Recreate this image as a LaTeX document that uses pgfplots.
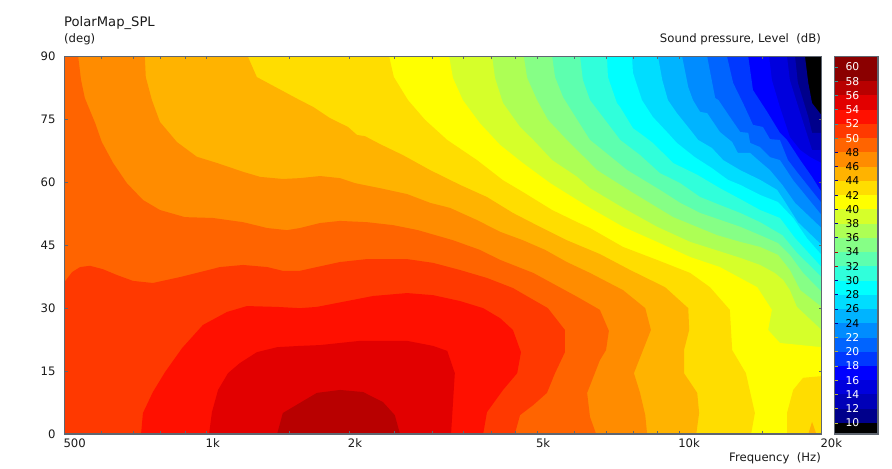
\documentclass[border=0pt]{standalone}
\usepackage{fontspec}
\setmainfont{DejaVu Sans}
\usepackage{pgfplots}
\pgfplotsset{compat=1.18}

\definecolor{axisgrey}{HTML}{5F6670}
\definecolor{c00}{HTML}{000000}
\definecolor{c10}{HTML}{00008B}
\definecolor{c12}{HTML}{0000B8}
\definecolor{c14}{HTML}{0000DD}
\definecolor{c16}{HTML}{0000FF}
\definecolor{c18}{HTML}{0038FF}
\definecolor{c20}{HTML}{0064FF}
\definecolor{c22}{HTML}{008CFF}
\definecolor{c24}{HTML}{00B4FF}
\definecolor{c26}{HTML}{00DDFF}
\definecolor{c28}{HTML}{00FFFF}
\definecolor{c30}{HTML}{30FFDB}
\definecolor{c32}{HTML}{5DFFAF}
\definecolor{c34}{HTML}{86FF86}
\definecolor{c36}{HTML}{ADFF55}
\definecolor{c38}{HTML}{D6FF2A}
\definecolor{c40}{HTML}{FFFF00}
\definecolor{c42}{HTML}{FFDD00}
\definecolor{c44}{HTML}{FFB300}
\definecolor{c46}{HTML}{FF8C00}
\definecolor{c48}{HTML}{FF6400}
\definecolor{c50}{HTML}{FF3900}
\definecolor{c52}{HTML}{FF1000}
\definecolor{c54}{HTML}{E20000}
\definecolor{c56}{HTML}{B80000}
\definecolor{c58}{HTML}{8B0000}

% one filled level region, painted from the lowest level up
\newcommand{\band}[2]{\addplot[fill=#1,draw=none] coordinates {#2} --cycle;}
% one step of the colour bar
\newcommand{\barstep}[2]{\addplot[fill=#1,draw=none] coordinates {(0,#2)(1,#2)(1,61.47)(0,61.47)} --cycle;}
\newcommand{\barlabel}[2]{\node[text=#1,font=\fontsize{10.8}{12}\selectfont] at (axis cs:0.41,#2) {#2};}

\begin{document}
\begin{tikzpicture}[x=1bp,y=1bp]
\useasboundingbox (0,0) rectangle (892,469);

\node[anchor=base west,inner sep=0pt,font=\fontsize{13.2}{15}\selectfont,text=black!90] at (64,442.5) {PolarMap\_SPL};
\node[anchor=base west,inner sep=0pt,font=\fontsize{11.7}{14}\selectfont,text=black!90] at (64,426) {(deg)};
\node[anchor=base east,inner sep=0pt,font=\fontsize{11.7}{14}\selectfont,text=black!90] at (821,426) {Sound pressure, Level\ \ (dB)};
\node[anchor=base east,inner sep=0pt,font=\fontsize{11.7}{14}\selectfont,text=black!90] at (821,7) {Frequency\ \ (Hz)};

\begin{axis}[
    at={(64.5bp,35bp)},
    anchor=south west,
    scale only axis,
    width=757bp,
    height=377.5bp,
    xmin=2.699, xmax=4.301,
    ymin=0, ymax=90,
    axis on top,
    axis line style={axisgrey,line width=1.1bp},
    tick style={axisgrey,line width=0.9bp},
    major tick length=3bp,
    minor tick length=3bp,
    tick align=inside,
    xtick={2.699,3,3.301,3.699,4,4.301},
    xticklabels={500,1k,2k,5k,10k,20k},
    minor xtick={2.778,2.845,2.903,2.954,3.176,3.398,3.477,3.544,3.602,3.653,3.778,3.845,3.903,3.954,4.176},
    ytick={0,15,30,45,60,75,90},
    xticklabel style={anchor=north west,xshift=-1bp,inner sep=0pt,outer sep=0pt,yshift=-4.5bp},
    yticklabel style={xshift=-5.5bp},
    ticklabel style={font=\fontsize{11.7}{14}\selectfont,text=black!90},
    /pgf/number format/assume math mode=true,
]
\band{c00}{(2.699,0)(4.301,0)(4.301,90)(2.699,90)}
\band{c10}{(4.266,90)(4.273,83.7)(4.281,78.9)(4.301,76.0)(4.301,0)(2.699,0)(2.699,90)}
\band{c12}{(4.245,90)(4.251,83.7)(4.273,75.6)(4.281,71.8)(4.301,71.8)(4.301,0)(2.699,0)(2.699,90)}
\band{c14}{(4.228,90)(4.234,84.4)(4.256,76.5)(4.281,67.7)(4.301,67.7)(4.301,0)(2.699,0)(2.699,90)}
\band{c16}{(4.190,90)(4.196,84.4)(4.213,77.9)(4.234,70.8)(4.256,67.7)(4.277,66.0)(4.301,64.6)(4.301,0)(2.699,0)(2.699,90)}
\band{c18}{(4.146,90)(4.156,82.0)(4.186,76.8)(4.213,71.8)(4.228,70.1)(4.256,65.3)(4.281,61.3)(4.301,57.7)(4.301,0)(2.699,0)(2.699,90)}
\band{c20}{(4.101,90)(4.114,83.7)(4.139,77.9)(4.156,73.7)(4.177,73.2)(4.192,70.3)(4.213,70.1)(4.230,65.3)(4.251,62.2)(4.301,55.1)(4.301,0)(2.699,0)(2.699,90)}
\band{c22}{(4.059,90)(4.076,80.1)(4.083,79.6)(4.107,75.6)(4.129,72.0)(4.146,71.8)(4.150,69.4)(4.171,68.4)(4.192,66.0)(4.213,65.3)(4.241,60.5)(4.270,56.5)(4.301,52.2)(4.301,0)(2.699,0)(2.699,90)}
\band{c24}{(4.006,90)(4.019,82.7)(4.029,79.6)(4.044,76.8)(4.059,76.5)(4.086,72.0)(4.112,69.6)(4.124,67.0)(4.150,67.0)(4.167,65.3)(4.192,62.9)(4.218,59.4)(4.245,55.1)(4.301,49.1)(4.301,0)(2.699,0)(2.699,90)}
\band{c26}{(3.955,90)(3.964,84.4)(3.976,79.6)(3.995,76.5)(4.027,72.0)(4.040,70.1)(4.069,68.2)(4.093,65.3)(4.129,62.9)(4.171,60.6)(4.207,58.2)(4.224,55.3)(4.251,50.5)(4.301,45.1)(4.301,0)(2.699,0)(2.699,90)}
\band{c28}{(3.900,90)(3.902,86.1)(3.921,79.6)(3.944,75.6)(3.974,72.0)(3.995,69.4)(4.033,66.0)(4.069,63.4)(4.103,60.6)(4.129,59.4)(4.171,57.0)(4.209,55.3)(4.241,51.5)(4.270,46.7)(4.301,42.7)(4.301,0)(2.699,0)(2.699,90)}
\band{c30}{(3.847,90)(3.849,85.1)(3.868,78.9)(3.875,77.9)(3.902,72.9)(3.917,71.7)(3.944,69.4)(3.987,64.6)(4.038,61.8)(4.086,58.6)(4.129,56.0)(4.171,53.4)(4.213,51.5)(4.245,46.7)(4.301,39.8)(4.301,0)(2.699,0)(2.699,90)}
\band{c32}{(3.790,90)(3.796,84.4)(3.811,79.6)(3.832,76.5)(3.875,70.1)(3.917,66.5)(3.959,62.2)(4.002,59.8)(4.044,56.5)(4.086,54.6)(4.129,52.7)(4.171,50.5)(4.218,47.4)(4.249,43.2)(4.301,37.4)(4.301,0)(2.699,0)(2.699,90)}
\band{c34}{(3.731,90)(3.737,85.1)(3.754,80.3)(3.784,74.9)(3.811,70.1)(3.832,68.2)(3.890,62.9)(3.959,58.2)(4.002,55.1)(4.044,52.7)(4.129,49.4)(4.171,47.4)(4.209,45.5)(4.234,42.7)(4.262,38.4)(4.301,33.9)(4.301,0)(2.699,0)(2.699,90)}
\band{c36}{(3.671,90)(3.678,84.9)(3.699,79.6)(3.722,74.9)(3.762,70.1)(3.805,65.3)(3.826,62.9)(3.902,57.5)(3.987,51.7)(4.080,47.4)(4.129,45.8)(4.171,44.6)(4.209,42.7)(4.234,39.1)(4.256,34.3)(4.301,30.3)(4.301,0)(2.699,0)(2.699,90)}
\band{c38}{(3.604,90)(3.610,84.9)(3.627,78.9)(3.663,73.2)(3.691,70.1)(3.731,65.3)(3.784,61.3)(3.811,58.6)(3.881,53.9)(3.953,49.4)(4.023,45.8)(4.129,42.0)(4.171,40.3)(4.202,38.4)(4.220,36.7)(4.234,34.3)(4.249,30.3)(4.301,24.8)(4.301,0)(2.699,0)(2.699,90)}
\band{c40}{(3.513,90)(3.521,84.9)(3.542,79.6)(3.578,74.1)(3.621,68.9)(3.669,64.6)(3.727,59.8)(3.811,53.9)(3.881,49.4)(3.953,45.8)(4.023,42.2)(4.086,39.8)(4.165,35.0)(4.196,29.6)(4.188,24.8)(4.213,21.7)(4.301,20.7)(4.301,0)(2.699,0)(2.699,90)}
\band{c42}{(3.386,90)(3.396,85.1)(3.426,79.6)(3.462,74.9)(3.509,70.1)(3.572,65.3)(3.627,60.5)(3.669,57.7)(3.731,53.4)(3.784,50.5)(3.811,49.1)(3.881,44.6)(3.953,41.5)(4.023,38.4)(4.065,35.0)(4.107,29.6)(4.112,20.0)(4.141,14.5)(4.160,5.0)(4.152,0)(2.699,0)(2.699,90)}
\band{c42}{(4.228,0)(4.228,5.0)(4.241,10.5)(4.262,13.4)(4.301,13.8)(4.301,0)}
\band{c44}{(3.087,90)(3.106,85.1)(3.149,82.5)(3.197,79.6)(3.225,78.0)(3.261,75.3)(3.299,73.2)(3.318,71.3)(3.335,71.0)(3.367,69.1)(3.415,66.5)(3.473,62.9)(3.536,59.4)(3.593,56.5)(3.648,52.7)(3.705,49.4)(3.762,46.2)(3.832,42.9)(3.896,39.1)(3.970,35.0)(4.019,30.0)(4.021,24.8)(4.010,20.0)(4.010,14.5)(4.038,9.8)(4.042,5.0)(4.036,0)(2.699,0)(2.699,90)}
\band{c44}{(4.273,0)(4.281,2.9)(4.290,0)}
\band{c46}{(2.869,90)(2.871,85.1)(2.884,79.6)(2.901,74.4)(2.937,69.6)(2.979,66.1)(3.022,64.6)(3.077,62.5)(3.113,61.3)(3.161,60.8)(3.197,61.0)(3.240,61.5)(3.282,61.0)(3.314,59.8)(3.367,58.6)(3.424,57.2)(3.473,55.1)(3.515,53.9)(3.572,51.0)(3.621,48.2)(3.669,46.2)(3.716,43.9)(3.762,41.0)(3.811,38.4)(3.881,34.3)(3.928,30.0)(3.940,24.8)(3.904,14.5)(3.917,9.8)(3.928,4.5)(3.932,0)(2.699,0)(2.699,90)}
\band{c48}{(2.728,90)(2.734,84.4)(2.742,80.1)(2.764,74.1)(2.778,69.6)(2.802,64.6)(2.831,59.8)(2.865,55.8)(2.901,53.4)(2.954,51.7)(3.013,51.5)(3.077,50.5)(3.128,49.1)(3.170,48.6)(3.197,49.1)(3.240,50.3)(3.282,50.8)(3.339,50.5)(3.394,49.8)(3.447,48.6)(3.521,46.2)(3.578,43.9)(3.621,41.5)(3.691,38.4)(3.784,32.7)(3.832,29.6)(3.851,24.6)(3.845,20.0)(3.832,17.6)(3.805,9.8)(3.811,4.1)(3.824,0)(2.699,0)(2.699,90)}
\band{c50}{(2.699,36.2)(2.715,38.6)(2.732,39.8)(2.753,40.1)(2.780,39.3)(2.810,37.9)(2.844,36.5)(2.886,36.0)(2.943,37.4)(2.986,38.6)(3.028,39.8)(3.077,40.3)(3.128,39.8)(3.161,38.9)(3.197,38.9)(3.233,39.8)(3.282,41.0)(3.339,41.7)(3.424,41.7)(3.479,40.8)(3.536,39.1)(3.593,37.2)(3.648,34.8)(3.691,32.0)(3.722,30.0)(3.758,24.8)(3.758,19.5)(3.737,14.5)(3.720,9.8)(3.691,6.9)(3.663,4.5)(3.652,0)(2.699,0)}
\band{c52}{(2.861,0)(2.865,5.0)(2.886,10.0)(2.912,14.8)(2.948,20.5)(2.992,26.0)(3.043,29.1)(3.085,30.5)(3.149,30.3)(3.197,30.0)(3.233,30.3)(3.288,31.5)(3.352,32.9)(3.424,33.6)(3.479,33.1)(3.536,31.7)(3.585,30.0)(3.621,27.6)(3.648,24.8)(3.665,19.5)(3.657,14.5)(3.627,10.5)(3.593,5.2)(3.585,0)}
\band{c54}{(3.005,0)(3.011,5.2)(3.024,10.5)(3.045,14.5)(3.070,16.9)(3.106,19.5)(3.149,20.7)(3.197,21.0)(3.240,21.2)(3.324,22.2)(3.424,22.2)(3.479,21.0)(3.509,19.8)(3.525,14.5)(3.517,0)}
\band{c56}{(3.149,0)(3.161,5.0)(3.197,7.4)(3.233,9.8)(3.282,10.5)(3.331,10.0)(3.373,7.6)(3.398,4.5)(3.409,0)}
\end{axis}

\begin{axis}[
    at={(834.5bp,35bp)},
    anchor=south west,
    scale only axis,
    width=43.5bp,
    height=377.5bp,
    xmin=0, xmax=1,
    ymin=8.45, ymax=61.47,
    axis on top,
    axis line style={axisgrey,line width=1.1bp},
    xtick=\empty,
    ytick=\empty,
]
\barstep{c00}{8.45}
\barstep{c10}{10}
\barstep{c12}{12}
\barstep{c14}{14}
\barstep{c16}{16}
\barstep{c18}{18}
\barstep{c20}{20}
\barstep{c22}{22}
\barstep{c24}{24}
\barstep{c26}{26}
\barstep{c28}{28}
\barstep{c30}{30}
\barstep{c32}{32}
\barstep{c34}{34}
\barstep{c36}{36}
\barstep{c38}{38}
\barstep{c40}{40}
\barstep{c42}{42}
\barstep{c44}{44}
\barstep{c46}{46}
\barstep{c48}{48}
\barstep{c50}{50}
\barstep{c52}{52}
\barstep{c54}{54}
\barstep{c56}{56}
\barstep{c58}{58}
\pgfplotsinvokeforeach{60,58,56,54,52,50}{\barlabel{white}{#1}
  \draw[teal!80!white,line width=0.8bp] (axis cs:0,#1) -- (axis cs:0.09,#1);}
\pgfplotsinvokeforeach{48,46,44,42,40,38,36,30,28,26,24}{\barlabel{black}{#1}
  \draw[blue!60!black,line width=0.8bp] (axis cs:0,#1) -- (axis cs:0.09,#1);}
\pgfplotsinvokeforeach{34,32}{\barlabel{black}{#1}
  \draw[red!70!black,line width=0.8bp] (axis cs:0,#1) -- (axis cs:0.09,#1);}
\pgfplotsinvokeforeach{22,20,18,16,14,12,10}{\barlabel{white}{#1}
  \draw[yellow!70!black,line width=0.8bp] (axis cs:0,#1) -- (axis cs:0.09,#1);}
\end{axis}
\end{tikzpicture}
\end{document}
